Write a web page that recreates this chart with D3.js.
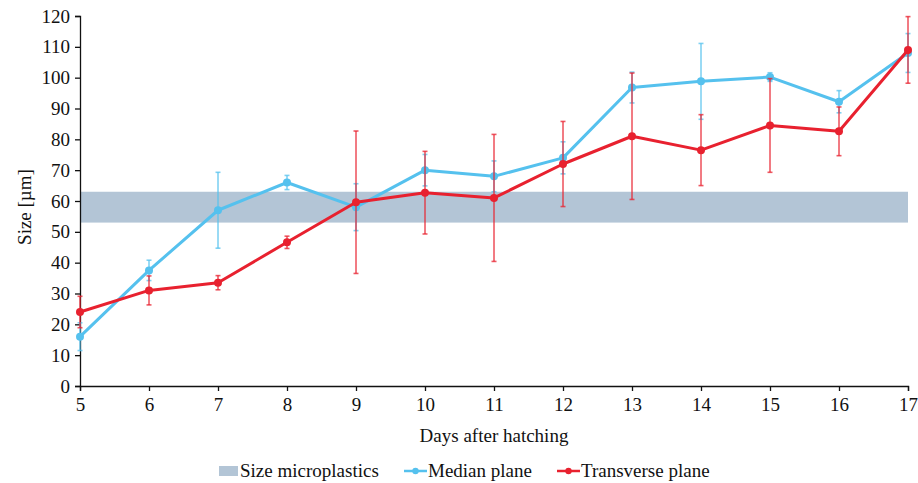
<!DOCTYPE html>
<html>
<head>
<meta charset="utf-8">
<script src="https://cdn.jsdelivr.net/npm/d3@7"></script>
<style>
  body { margin: 0; background: #fff; }
  svg text { font-family: "Liberation Serif", "DejaVu Serif", "Times New Roman", serif !important; fill: #111; }
</style>
</head>
<body>
<div id="chart"></div>
<script>
// data
const days = [5, 6, 7, 8, 9, 10, 11, 12, 13, 14, 15, 16, 17];
const medianMean = [16, 37.5, 57, 66, 58, 70, 68, 74, 96.8, 98.8, 100.2, 92.2, 108];
const medianErr  = [4.5, 3.3, 12.3, 2.3, 7.6, 5.1, 5, 5.2, 5, 12.3, 1.4, 3.6, 6.3];
const transMean  = [24, 31, 33.5, 46.6, 59.6, 62.7, 61, 72, 81, 76.5, 84.5, 82.6, 109];
const transErr   = [5.1, 4.7, 2.3, 2, 23.1, 13.4, 20.6, 13.8, 20.5, 11.5, 15.2, 7.9, 10.8];
const bandRange  = [53, 63];   // size of microplastics
const yTicks = d3.range(0, 121, 10);

const width = 918, height = 483;
const margin = { top: 16, right: 10, bottom: 97, left: 80 };
const innerWidth = 908 - margin.left;
const innerHeight = 386 - margin.top;
const fontSize = 19;

const blue = "#55c1ee", red = "#e8212f", bandColor = "#b3c5d6";

const xScale = d3.scaleLinear().domain([5, 17]).range([0, innerWidth]);
const yScale = d3.scaleLinear().domain([0, 120]).range([innerHeight, 0]);

const svg = d3.select("#chart").append("svg")
  .attr("width", width).attr("height", height)
  .attr("font-family", "Liberation Serif");

const inner = svg.append("g")
  .attr("transform", `translate(${margin.left}, ${margin.top})`);

// band
inner.append("rect")
  .attr("x", xScale(5))
  .attr("width", xScale(17) - xScale(5))
  .attr("y", yScale(bandRange[1]))
  .attr("height", yScale(bandRange[0]) - yScale(bandRange[1]))
  .attr("fill", bandColor);

// axes
const leftAxis = d3.axisLeft(yScale).tickValues(yTicks).tickSize(5).tickPadding(5);
inner.append("g").attr("class", "axis").call(leftAxis);
const bottomAxis = d3.axisBottom(xScale).tickValues(days).tickSize(5).tickPadding(7).tickFormat(d3.format("d"));
inner.append("g").attr("class", "axis").attr("transform", `translate(0, ${innerHeight})`).call(bottomAxis);
inner.selectAll(".axis").attr("font-family", null).attr("font-size", null);
inner.selectAll(".domain, .tick line").attr("stroke", "#111").attr("stroke-width", 1.3);
inner.selectAll(".tick text").style("font-size", fontSize + "px").attr("fill", "#111");

function drawErrors(means, errs, color) {
  const pts = days.map((d, i) => ({ x: d, y: means[i], e: errs[i] }));
  const g = inner.append("g");
  const eb = g.selectAll(".eb").data(pts).join("g")
    .attr("stroke", color).attr("stroke-opacity", 0.75).attr("stroke-width", 1.6);
  eb.append("line")
    .attr("x1", d => xScale(d.x)).attr("x2", d => xScale(d.x))
    .attr("y1", d => yScale(d.y + d.e)).attr("y2", d => yScale(d.y - d.e));
  eb.append("line")
    .attr("x1", d => xScale(d.x) - 2.5).attr("x2", d => xScale(d.x) + 2.5)
    .attr("y1", d => yScale(d.y + d.e)).attr("y2", d => yScale(d.y + d.e));
  eb.append("line")
    .attr("x1", d => xScale(d.x) - 2.5).attr("x2", d => xScale(d.x) + 2.5)
    .attr("y1", d => yScale(d.y - d.e)).attr("y2", d => yScale(d.y - d.e));
  return { g, pts };
}

function drawLine(s, color) {
  const line = d3.line().x(d => xScale(d.x)).y(d => yScale(d.y));
  s.g.append("path").datum(s.pts)
    .attr("d", line).attr("fill", "none")
    .attr("stroke", color).attr("stroke-width", 3).attr("stroke-linejoin", "round");
  s.g.selectAll("circle").data(s.pts).join("circle")
    .attr("cx", d => xScale(d.x)).attr("cy", d => yScale(d.y))
    .attr("r", 4).attr("fill", color);
}

const sBlue = drawErrors(medianMean, medianErr, blue);
const sRed = drawErrors(transMean, transErr, red);
drawLine(sBlue, blue);
drawLine(sRed, red);

// axis labels
svg.append("text")
  .text("Days after hatching")
  .attr("x", margin.left + innerWidth / 2)
  .attr("y", 442)
  .attr("text-anchor", "middle")
  .style("font-size", fontSize + "px");

svg.append("text")
  .text("Size [µm]")
  .attr("transform", `translate(31, 207) rotate(-90)`)
  .attr("text-anchor", "middle")
  .style("font-size", fontSize + "px");

// legend
const legend = svg.append("g").attr("transform", "translate(0, 471)");
legend.append("rect").attr("x", 219).attr("y", -5).attr("width", 19).attr("height", 10).attr("fill", bandColor);
legend.append("text").text("Size microplastics").attr("x", 240).attr("y", 6).style("font-size", fontSize + "px");

[[404, blue, "Median plane"], [557, red, "Transverse plane"]].forEach(([x, c, label]) => {
  legend.append("line").attr("x1", x).attr("x2", x + 23).attr("y1", 0).attr("y2", 0)
    .attr("stroke", c).attr("stroke-width", 2.5);
  legend.append("circle").attr("cx", x + 11.5).attr("cy", 0).attr("r", 3.2).attr("fill", c);
  legend.append("text").text(label).attr("x", x + 24).attr("y", 6).style("font-size", fontSize + "px");
});
</script>
</body>
</html>
